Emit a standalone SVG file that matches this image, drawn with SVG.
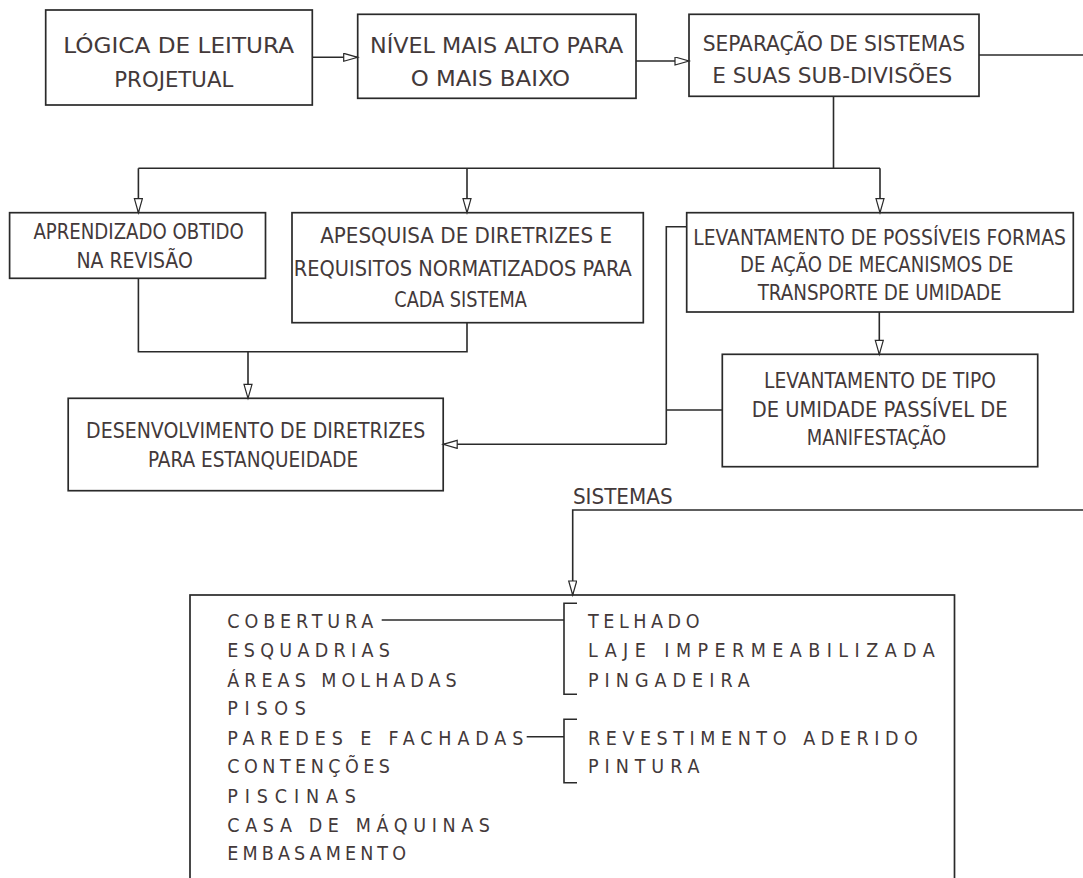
<svg xmlns="http://www.w3.org/2000/svg" width="1083" height="878" viewBox="0 0 1083 878">
<style>
.box{fill:#fff;stroke:#2a2a2a;stroke-width:1.7}
.ln{fill:none;stroke:#2a2a2a;stroke-width:1.6}
.t{font-family:"Liberation Sans Narrow","DejaVu Sans Condensed","Liberation Sans",Arial,sans-serif;fill:#43393a;font-size:21px}
.t22{font-size:22px}
.s{font-family:"Liberation Sans Narrow","DejaVu Sans Condensed","Liberation Sans",Arial,sans-serif;fill:#43393a;font-size:19.5px}
</style>
<defs>
<marker id="ah" markerUnits="userSpaceOnUse" markerWidth="18" markerHeight="10" refX="15" refY="4.5" orient="auto">
<path d="M1,0.5 L15,4.5 L1,8.5 Z" fill="#fff" stroke="#2a2a2a" stroke-width="1.2"/>
</marker>
</defs>
<rect width="1083" height="878" fill="#fff"/>

<g id="n1">
<rect class="box" x="45.7" y="10" width="266.6" height="95"/>
<text class="t t22" x="63.3" y="53.3" textLength="230.7" lengthAdjust="spacingAndGlyphs">LÓGICA DE LEITURA</text>
<text class="t t22" x="114.3" y="86.7" textLength="119" lengthAdjust="spacingAndGlyphs">PROJETUAL</text>
</g>
<g id="n2">
<rect class="box" x="357.7" y="14.3" width="278.3" height="84"/>
<text class="t" x="370" y="53.3" textLength="253.3" lengthAdjust="spacingAndGlyphs">NÍVEL MAIS ALTO PARA</text>
<text class="t" x="410.7" y="85.5" textLength="159.3" lengthAdjust="spacingAndGlyphs">O MAIS BAIXO</text>
</g>
<g id="n3">
<rect class="box" x="689" y="14.3" width="290" height="82"/>
<text class="t" x="702.7" y="50.5" textLength="262.3" lengthAdjust="spacingAndGlyphs">SEPARAÇÃO DE SISTEMAS</text>
<text class="t" x="712.3" y="83.3" textLength="240" lengthAdjust="spacingAndGlyphs">E SUAS SUB-DIVISÕES</text>
</g>
<g id="n4">
<rect class="box" x="9.6" y="212.7" width="255.9" height="65.6"/>
<text class="t" x="33.4" y="239" textLength="210.4" lengthAdjust="spacingAndGlyphs">APRENDIZADO OBTIDO</text>
<text class="t" x="76.4" y="268.3" textLength="116.4" lengthAdjust="spacingAndGlyphs">NA REVISÃO</text>
</g>
<g id="n5">
<rect class="box" x="292" y="212.7" width="351.3" height="110"/>
<text class="t" x="320.2" y="243" textLength="291.8" lengthAdjust="spacingAndGlyphs">APESQUISA DE DIRETRIZES E</text>
<text class="t" x="293.8" y="275.5" textLength="338" lengthAdjust="spacingAndGlyphs">REQUISITOS NORMATIZADOS PARA</text>
<text class="t" x="394.3" y="306.5" textLength="132.6" lengthAdjust="spacingAndGlyphs">CADA SISTEMA</text>
</g>
<g id="n6">
<rect class="box" x="686.7" y="212.7" width="386.6" height="99.3"/>
<text class="t" x="693.3" y="245" textLength="372.7" lengthAdjust="spacingAndGlyphs">LEVANTAMENTO DE POSSÍVEIS FORMAS</text>
<text class="t" x="740" y="272" textLength="273.3" lengthAdjust="spacingAndGlyphs">DE AÇÃO DE MECANISMOS DE</text>
<text class="t" x="757.7" y="300" textLength="244" lengthAdjust="spacingAndGlyphs">TRANSPORTE DE UMIDADE</text>
</g>
<g id="n7">
<rect class="box" x="68.2" y="398.3" width="375" height="92.4"/>
<text class="t t22" x="86.1" y="438.3" textLength="339.2" lengthAdjust="spacingAndGlyphs">DESENVOLVIMENTO DE DIRETRIZES</text>
<text class="t t22" x="148" y="466.7" textLength="210.1" lengthAdjust="spacingAndGlyphs">PARA ESTANQUEIDADE</text>
</g>
<g id="n8">
<rect class="box" x="722.3" y="354.3" width="315.4" height="112.4"/>
<text class="t" x="764" y="388.3" textLength="232" lengthAdjust="spacingAndGlyphs">LEVANTAMENTO DE TIPO</text>
<text class="t" x="751.7" y="416.7" textLength="256" lengthAdjust="spacingAndGlyphs">DE UMIDADE PASSÍVEL DE</text>
<text class="t" x="806.7" y="445" textLength="139.3" lengthAdjust="spacingAndGlyphs">MANIFESTAÇÃO</text>
</g>
<g id="label-sistemas">
<text class="t" x="572.9" y="504" textLength="99.7" lengthAdjust="spacingAndGlyphs">SISTEMAS</text>
</g>
<g id="n9">
<rect class="box" x="190" y="595" width="764.5" height="320"/>
<text class="s" x="227.3" y="628" textLength="146" lengthAdjust="spacing">COBERTURA</text>
<text class="s" x="227.3" y="657" textLength="162.7" lengthAdjust="spacing">ESQUADRIAS</text>
<text class="s" x="227.3" y="686.5" textLength="229.4" lengthAdjust="spacing">ÁREAS MOLHADAS</text>
<text class="s" x="227.3" y="715" textLength="78.7" lengthAdjust="spacing">PISOS</text>
<text class="s" x="227.3" y="744.5" textLength="296" lengthAdjust="spacing">PAREDES E FACHADAS</text>
<text class="s" x="227.3" y="773.3" textLength="162.7" lengthAdjust="spacing">CONTENÇÕES</text>
<text class="s" x="227.3" y="802.5" textLength="128.7" lengthAdjust="spacing">PISCINAS</text>
<text class="s" x="227.3" y="831.5" textLength="262.7" lengthAdjust="spacing">CASA DE MÁQUINAS</text>
<text class="s" x="227.3" y="860" textLength="178.7" lengthAdjust="spacing">EMBASAMENTO</text>
<text class="s" x="588" y="628" textLength="111.5" lengthAdjust="spacing">TELHADO</text>
<text class="s" x="588" y="657" textLength="346.7" lengthAdjust="spacing">LAJE IMPERMEABILIZADA</text>
<text class="s" x="588" y="686.5" textLength="161.8" lengthAdjust="spacing">PINGADEIRA</text>
<text class="s" x="588" y="744.5" textLength="329.8" lengthAdjust="spacing">REVESTIMENTO ADERIDO</text>
<text class="s" x="588" y="773.3" textLength="111.5" lengthAdjust="spacing">PINTURA</text>
</g>

<g id="connectors">
<line class="ln" x1="312.3" y1="57.3" x2="357.7" y2="57.3" marker-end="url(#ah)"/>
<line class="ln" x1="636" y1="61" x2="689" y2="61" marker-end="url(#ah)"/>
<line class="ln" x1="979" y1="55" x2="1083" y2="55"/>
<line class="ln" x1="833.5" y1="96.3" x2="833.5" y2="168.3"/>
<line class="ln" x1="138.4" y1="168.3" x2="880" y2="168.3"/>
<line class="ln" x1="138.4" y1="168.3" x2="138.4" y2="212.7" marker-end="url(#ah)"/>
<line class="ln" x1="467" y1="168.3" x2="467" y2="212.7" marker-end="url(#ah)"/>
<line class="ln" x1="880" y1="168.3" x2="880" y2="212.7" marker-end="url(#ah)"/>
<polyline class="ln" points="138.4,278.3 138.4,351.7 467,351.7 467,322.7"/>
<line class="ln" x1="248" y1="351.7" x2="248" y2="398.3" marker-end="url(#ah)"/>
<line class="ln" x1="879.3" y1="312" x2="879.3" y2="354.3" marker-end="url(#ah)"/>
<polyline class="ln" points="686.7,226.7 666.3,226.7 666.3,444.3"/>
<line class="ln" x1="666.3" y1="410" x2="722.3" y2="410"/>
<line class="ln" x1="666.3" y1="444.3" x2="443.2" y2="444.3" marker-end="url(#ah)"/>
<polyline class="ln" points="1083,510 572.7,510 572.7,595" marker-end="url(#ah)"/>
<line class="ln" x1="381.7" y1="620" x2="564" y2="620"/>
<polyline class="ln" points="577,603.3 564,603.3 564,694.3 577,694.3"/>
<line class="ln" x1="526.7" y1="736.7" x2="564" y2="736.7"/>
<polyline class="ln" points="577,719.3 564,719.3 564,782.7 577,782.7"/>
</g>
</svg>
